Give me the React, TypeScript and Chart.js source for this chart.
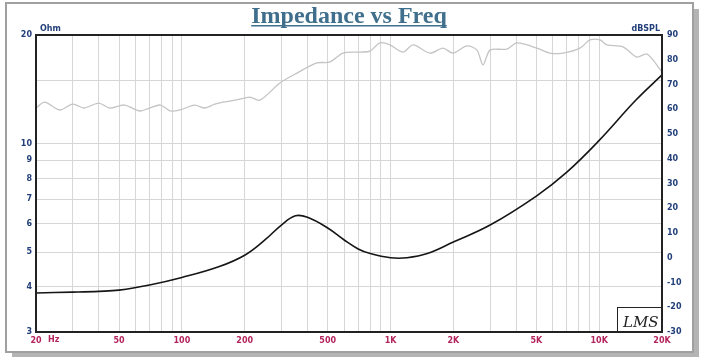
import React, { useEffect, useRef } from "react";
import { Chart, registerables } from "chart.js";

Chart.register(...registerables);

// ---- data ----
const xTickValues = [20, 30, 40, 50, 60, 70, 80, 90, 100, 200, 300, 400, 500, 600, 700, 800, 900, 1000, 2000, 3000, 4000, 5000, 6000, 7000, 8000, 9000, 10000, 20000];
const xTickLabels = ["20", "", "", "50", "", "", "", "", "100", "200", "", "", "500", "", "", "", "", "1K", "2K", "", "", "5K", "", "", "", "", "10K", "20K"];

const ohmTickValues = [3, 4, 5, 6, 7, 8, 9, 10, 15, 20];
const ohmTickLabels = ["3", "4", "5", "6", "7", "8", "9", "10", "", "20"];

const splTickValues = [-30, -20, -10, 0, 10, 20, 30, 40, 50, 60, 70, 80, 90];

const impFreq = [20, 30, 40, 50, 70, 100, 150, 200, 250, 300, 350, 400, 500, 600, 700, 800, 1000, 1200, 1500, 2000, 3000, 5000, 7000, 10000, 15000, 20000];
const impOhm = [3.85, 3.87, 3.89, 3.92, 4.05, 4.25, 4.55, 4.9, 5.4, 5.94, 6.3, 6.24, 5.83, 5.4, 5.1, 4.95, 4.82, 4.82, 4.95, 5.33, 5.94, 7.15, 8.33, 10.2, 13.2, 15.5];

const splFreq = [20, 22, 26, 30, 34, 40, 45, 53, 63, 70, 79, 88, 98, 115, 129, 144, 170, 200, 212, 237, 295, 356, 444, 513, 592, 714, 797, 890, 994, 1148, 1282, 1546, 1784, 1991, 2324, 2595, 2775, 3000, 3616, 4038, 5036, 5810, 6705, 8090, 9035, 10090, 10900, 13000, 15170, 16950, 20000];
const splDb = [60.5, 62.9, 59.7, 62.1, 60.5, 62.5, 60.5, 61.7, 59.3, 60.5, 61.7, 59.3, 59.7, 61.7, 60.5, 62.1, 63.3, 64.5, 64.9, 63.7, 70.6, 74.6, 78.7, 79.1, 82.7, 83.1, 83.5, 86.8, 86.0, 83.1, 86.0, 82.7, 84.7, 82.7, 85.6, 83.9, 77.9, 83.9, 84.3, 86.8, 84.7, 82.7, 82.7, 84.7, 88.0, 88.0, 86.0, 85.2, 81.1, 82.3, 75.1];

const TITLE = "Impedance vs Freq";
const NAVY = "#23407a";
const CRIMSON = "#b4245c";
const GRID = "#d6d6d6";
const TICK_FONT = { family: "'DejaVu Sans', Verdana, sans-serif", size: 8, weight: "bold" as const };

const framePlugin = {
  id: "frame",
  beforeDraw(chart: any) {
    const ctx = chart.ctx;
    ctx.save();
    ctx.fillStyle = "#ffffff";
    ctx.fillRect(0, 0, chart.width, chart.height);
    ctx.fillStyle = "#b4b4b4";
    ctx.fillRect(12, 9, 687, 348);
    ctx.fillStyle = "#ffffff";
    ctx.fillRect(6, 3, 687, 349);
    ctx.strokeStyle = "#a0a0a0";
    ctx.lineWidth = 2;
    ctx.strokeRect(6, 3, 687, 349);
    ctx.restore();
  },
  afterDraw(chart: any) {
    const ctx = chart.ctx;
    const a = chart.chartArea;
    ctx.save();
    ctx.strokeStyle = "#222222";
    ctx.lineWidth = 2;
    ctx.strokeRect(a.left, a.top, a.right - a.left, a.bottom - a.top);
    ctx.font = "bold 24px 'Liberation Serif', 'DejaVu Serif', serif";
    ctx.fillStyle = "#3f6f8c";
    ctx.textAlign = "center";
    ctx.textBaseline = "alphabetic";
    const cx = 349;
    ctx.fillText(TITLE, cx, 23);
    const w = ctx.measureText(TITLE).width;
    ctx.fillRect(cx - w / 2, 25, w, 1.5);
    ctx.font = "bold 8px 'DejaVu Sans', Verdana, sans-serif";
    ctx.fillStyle = NAVY;
    ctx.textBaseline = "middle";
    ctx.textAlign = "left";
    ctx.fillText("Ohm", a.left + 4, 29);
    ctx.textAlign = "right";
    ctx.fillText("dBSPL", a.right - 2, 29);
    ctx.fillStyle = CRIMSON;
    ctx.textAlign = "left";
    ctx.fillText("Hz", a.left + 12, a.bottom + 8);
    ctx.strokeStyle = "#222222";
    ctx.lineWidth = 1;
    ctx.strokeRect(617.5, 307.5, a.right - 617.5, a.bottom - 307.5);
    ctx.font = "italic 15px 'DejaVu Serif', serif";
    ctx.fillStyle = "#222222";
    ctx.textAlign = "left";
    ctx.textBaseline = "alphabetic";
    ctx.fillText("LMS", 623, 327);
    ctx.restore();
  },
};

export default function App() {
  const ref = useRef<HTMLCanvasElement | null>(null);
  useEffect(() => {
    document.body.style.margin = "0";
    if (!ref.current) return;
    const chart = new Chart(ref.current, {
      type: "line",
      data: {
        datasets: [
          {
            label: "SPL",
            data: splFreq.map((f, i) => ({ x: f, y: splDb[i] })),
            yAxisID: "y2",
            borderColor: "#c4c4c4",
            borderWidth: 1.3,
            pointRadius: 0,
            tension: 0.3,
            fill: false,
          },
          {
            label: "Impedance",
            data: impFreq.map((f, i) => ({ x: f, y: impOhm[i] })),
            yAxisID: "y",
            borderColor: "#151515",
            borderWidth: 1.6,
            pointRadius: 0,
            tension: 0.4,
            fill: false,
          },
        ],
      },
      options: {
        responsive: false,
        animation: false,
        events: [],
        layout: { padding: { top: 35, left: 0, right: 0, bottom: 0 } },
        plugins: { legend: { display: false }, tooltip: { enabled: false }, title: { display: false } },
        scales: {
          x: {
            type: "logarithmic",
            min: 20,
            max: 20000,
            afterBuildTicks: (s: any) => { s.ticks = xTickValues.map((v) => ({ value: v })); },
            afterFit: (s: any) => { s.height = 28; },
            grid: { color: GRID, lineWidth: 1, drawTicks: false },
            border: { display: false },
            ticks: {
              autoSkip: false,
              maxRotation: 0,
              padding: 4,
              color: CRIMSON,
              font: TICK_FONT,
              callback: (v: any) => { const i = xTickValues.indexOf(Number(v)); return i >= 0 ? xTickLabels[i] : ""; },
            },
          },
          y: {
            type: "logarithmic",
            position: "left",
            min: 3,
            max: 20,
            afterBuildTicks: (s: any) => { s.ticks = ohmTickValues.map((v) => ({ value: v })); },
            afterFit: (s: any) => { s.width = 36; },
            grid: { color: GRID, lineWidth: 1, drawTicks: false },
            border: { display: false },
            ticks: {
              autoSkip: false,
              padding: 4,
              color: NAVY,
              font: TICK_FONT,
              callback: (v: any) => { const i = ohmTickValues.indexOf(Number(v)); return i >= 0 ? ohmTickLabels[i] : ""; },
            },
          },
          y2: {
            type: "linear",
            position: "right",
            min: -30,
            max: 90,
            afterBuildTicks: (s: any) => { s.ticks = splTickValues.map((v) => ({ value: v })); },
            afterFit: (s: any) => { s.width = 44; },
            grid: { display: false, drawTicks: false },
            border: { display: false },
            ticks: {
              autoSkip: false,
              padding: 5,
              color: NAVY,
              font: TICK_FONT,
              callback: (v: any) => String(v),
            },
          },
        },
      },
      plugins: [framePlugin],
    } as any);
    return () => chart.destroy();
  }, []);
  return (
    <div style={{ width: 706, height: 360 }}>
      <canvas ref={ref} width={706} height={360} style={{ display: "block" }} />
    </div>
  );
}
